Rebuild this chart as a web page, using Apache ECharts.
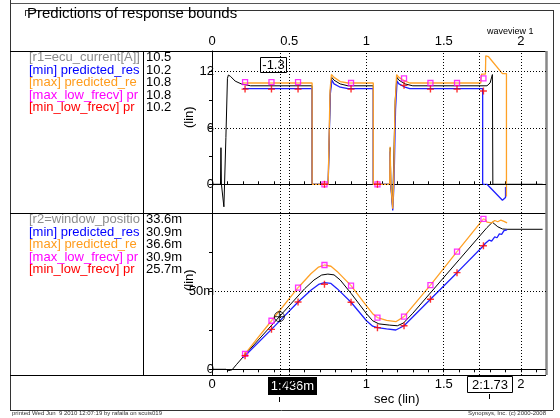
<!DOCTYPE html>
<html>
<head>
<meta charset="utf-8">
<script src="https://cdn.jsdelivr.net/npm/echarts@6/dist/echarts.min.js"></script>
<style>html,body{margin:0;padding:0;background:#fff}#main{width:560px;height:418px}</style>
</head>
<body>
<div id="main"></div>
<script>
var FONT = 'Liberation Sans, Arial, Helvetica, sans-serif';

// top panel: ecu current [A], points are [sec, value]
var curR1 = [[0,0],[0.055,0],[0.058,3.9],[0.061,0],[0.072,0],[0.077,-2.4],[0.09,5],[0.1,11.3],[0.106,11.65],[0.12,11.5],[0.15,11.0],[0.19,10.7],[0.25,10.5],[0.648,10.5],[0.648,0],[0.752,0],[0.766,10],[0.775,11.4],[0.79,11.1],[0.83,10.7],[0.88,10.5],[1.044,10.5],[1.044,0],[1.152,0],[1.154,3.9],[1.157,0],[1.166,0],[1.169,-2.4],[1.186,9],[1.197,11.4],[1.21,11.1],[1.25,10.7],[1.3,10.5],[1.78,10.5],[1.8,10.8],[1.815,11.7],[1.818,0],[2.14,0]];
var curMin = [[0.2,10.2],[0.648,10.2],[0.648,0],[0.752,0],[0.765,9.5],[0.776,11.1],[0.79,10.7],[0.83,10.35],[0.88,10.2],[1.044,10.2],[1.044,0],[1.15,0],[1.153,3.5],[1.157,0],[1.166,0],[1.17,-2.8],[1.178,0],[1.188,8],[1.198,11.0],[1.21,10.7],[1.25,10.35],[1.28,10.2],[1.752,10.2],[1.752,0],[1.78,0],[1.88,-1.7],[1.9,-1.4],[1.9,-0.3]];
var curMax = [[0.2,10.8],[0.648,10.8],[0.648,0],[0.752,0],[0.764,10],[0.773,11.7],[0.79,11.4],[0.83,10.95],[0.88,10.8],[1.044,10.8],[1.044,0],[1.15,0],[1.153,4.0],[1.158,0],[1.165,0],[1.17,-2.6],[1.176,0],[1.184,8],[1.195,11.7],[1.21,11.4],[1.25,11.0],[1.28,10.8],[1.74,10.8],[1.745,11.75],[1.77,11.75],[1.772,13.7],[1.79,13.6],[1.88,11.8],[1.906,11.8],[1.906,-1.3]];

// bottom panel: window position, values in milli units
var posR2 = [[0,0],[0.09,0],[0.11,-0.8],[0.13,-0.3],[0.16,3.2],[0.214,9.3],[0.436,33.6],[0.6,51.5],[0.66,57],[0.71,60.2],[0.75,60.8],[0.79,60.3],[0.83,57],[0.9,48.5],[1.0,35.5],[1.04,31],[1.08,29],[1.15,28.2],[1.2,27.8],[1.24,29.6],[1.3,35.8],[1.6,70],[1.78,90.5],[1.815,93.9],[1.85,91],[1.88,89.6],[1.91,89.4],[2.14,89.4]];
var posMin = [[0.2,7.5],[0.214,8.7],[0.385,25.5],[0.557,43],[0.64,50.5],[0.69,54.2],[0.728,55.3],[0.77,54.8],[0.81,51.5],[0.9,42.8],[1.0,31],[1.04,27.5],[1.071,26.6],[1.13,25.8],[1.19,25.1],[1.243,27.8],[1.414,44.7],[1.586,61.7],[1.757,78.9],[1.77,80.5],[1.78,79.5],[1.795,82.5],[1.81,81.8],[1.83,84.5],[1.845,84],[1.86,86.5],[1.875,86.2],[1.89,88.5],[1.91,89]];
var posMax = [[0.2,8.2],[0.214,9.8],[0.385,31],[0.557,52.1],[0.64,61],[0.69,65.3],[0.728,66.6],[0.77,65.8],[0.81,62.5],[0.9,53.4],[1.0,40.5],[1.04,35.5],[1.071,33],[1.13,31.2],[1.19,30.4],[1.243,33.6],[1.414,53.8],[1.586,75.1],[1.757,96],[1.77,95.5],[1.78,94],[1.79,95.2],[1.81,93.5],[1.83,95],[1.85,94.2],[1.87,95.3],[1.89,94.5],[1.91,93.5]];

// low frequency sample points
var lowT = [0.214, 0.385, 0.557, 0.728, 0.9, 1.071, 1.243, 1.414, 1.586, 1.757];
var curMaxLow = [10.9, 10.9, 10.9, 0, 10.8, 0, 11.3, 10.8, 10.8, 11.3];
var curMinLow = [10.15, 10.15, 10.15, 0, 10.15, 0, 10.55, 10.15, 10.15, 9.95];
var posMaxLow = [9.8, 31, 52.1, 66.6, 53.4, 33, 33.6, 53.8, 75.1, 96];
var posMinLow = [8.7, 25.5, 43, 54.3, 42.8, 26.6, 27.8, 44.7, 61.7, 78.9];

var cursorT = [0.436, 1.73];
var cursorPos = [[0.436, 33.6]];
var gridT = [0.5, 1, 1.5, 2];
var curTicks = [0, 3, 6, 9, 12];
var curLabels = [0, 6, 12];
var posTicks = [0, 25, 50, 75];
var posLabels = [0, 50];

var topNames = ['[r1=ecu_current[A]]', '[min] predicted_response_min', '[max] predicted_response_max', '[max_low_frecv] predicted_max', '[min_low_frecv] predicted_min'];
var topValues = ['10.5', '10.2', '10.8', '10.8', '10.2'];
var botNames = ['[r2=window_position[m]]', '[min] predicted_response_min', '[max] predicted_response_max', '[max_low_frecv] predicted_max', '[min_low_frecv] predicted_min'];
var botValues = ['33.6m', '30.9m', '36.6m', '30.9m', '25.7m'];
var rowColors = ['#8c8c8c', '#0000ff', '#ff9c1c', '#ff00ff', '#ff0000'];

var C_BLACK = '#000', C_BLUE = '#2020ff', C_ORANGE = '#ffa126', C_MAG = '#ff00ff', C_RED = '#ff0000';
var PLUS = 'path://M4,0H6V4H10V6H6V10H4V6H0V4H4Z';
var CROSS = 'path://M0,-10A10,10,0,1,1,0,10A10,10,0,1,1,0,-10ZM-10,0H10M0,-10V10';

function pairs(xs, ys) { return xs.map(function (x, i) { return [x, ys[i]]; }); }

function halfLabel(v) {
  if (Math.abs(v * 2 - Math.round(v * 2)) > 1e-6) return '';
  return String(Math.round(v * 10) / 10);
}

function gridMarks(yvals) {
  var d = [];
  gridT.concat(cursorT).forEach(function (t) { d.push({ xAxis: t }); });
  yvals.forEach(function (v) { d.push({ yAxis: v }); });
  return {
    silent: true, symbol: ['none', 'none'], label: { show: false },
    lineStyle: { type: [1, 2], color: '#000', width: 1 }, data: d
  };
}

function xAxisCfg(idx, pos) {
  return {
    gridIndex: idx, type: 'value', position: pos, min: 0, max: 2.162, interval: 0.1,
    axisLine: { lineStyle: { color: '#000', width: 1 } },
    axisTick: { length: 3, lineStyle: { color: '#000' } },
    axisLabel: { formatter: halfLabel, color: '#000', fontSize: 13, fontFamily: FONT, margin: 3 },
    splitLine: { show: false }
  };
}

function lineS(xi, data, color, w) {
  return { type: 'line', xAxisIndex: xi, yAxisIndex: xi, data: data, showSymbol: false,
    lineStyle: { color: color, width: w }, itemStyle: { color: color }, silent: true };
}

function legendRows(y0, names, values) {
  var out = [];
  names.forEach(function (n, i) {
    var y = y0 + i * 12.5;
    out.push({ type: 'text', left: 29, top: y - 7, z: 10, silent: true,
      style: { text: n, fill: rowColors[i], font: '13px ' + FONT, width: 113, overflow: 'truncate', ellipsis: '' } });
    out.push({ type: 'text', left: 146, top: y - 7, z: 10, silent: true,
      style: { text: values[i], fill: '#000', font: '13px ' + FONT } });
  });
  return out;
}

function hline(x1, x2, y, color, w) {
  return { type: 'line', z: 5, silent: true, shape: { x1: x1, y1: y, x2: x2, y2: y }, style: { stroke: color || '#000', lineWidth: w || 1 } };
}
function vline(x, y1, y2, color, w) {
  return { type: 'line', z: 5, silent: true, shape: { x1: x, y1: y1, x2: x, y2: y2 }, style: { stroke: color || '#000', lineWidth: w || 1 } };
}

var graphics = [
  { type: 'text', left: 27, top: 6, z: 10, style: { text: 'Predictions of response bounds', fill: '#000', font: '15px ' + FONT } },
  { type: 'text', left: 487, top: 27, z: 10, style: { text: 'waveview 1', fill: '#000', font: '9px ' + FONT } },
  hline(10, 560, 3.5, '#555'),
  vline(10.5, 0, 410, '#333'),
  hline(25, 553, 10.5, '#333'),
  vline(25.5, 10, 16, '#333'),
  vline(553.5, 10, 410, '#333'),
  hline(10, 553, 410.5, '#333'),
  hline(10, 546, 51.5),
  hline(10, 546, 213.5),
  hline(10, 546, 375.5),
  vline(143.5, 51, 375),
  vline(546.5, 51, 375, '#888', 2.5),
  { type: 'group', left: 260, top: 57, z: 10, children: [
    { type: 'rect', shape: { x: 0, y: 0, width: 26, height: 15 }, style: { fill: '#fff', stroke: '#000', lineWidth: 1 } },
    { type: 'text', x: 13, y: 8, style: { text: '-1.3', fill: '#000', font: '13px ' + FONT, align: 'center', verticalAlign: 'middle' } }
  ] },
  { type: 'group', left: 268, top: 377, z: 10, children: [
    { type: 'rect', shape: { x: 0, y: 0, width: 49, height: 18 }, style: { fill: '#000' } },
    { type: 'text', x: 24.5, y: 9.5, style: { text: '1:436m', fill: '#fff', font: '13px ' + FONT, align: 'center', verticalAlign: 'middle' } }
  ] },
  { type: 'group', left: 467, top: 376, z: 10, children: [
    { type: 'rect', shape: { x: 0, y: 0, width: 45, height: 16 }, style: { fill: '#fff', stroke: '#000', lineWidth: 1 } },
    { type: 'text', x: 22.5, y: 8.5, style: { text: '2:1.73', fill: '#000', font: '13px ' + FONT, align: 'center', verticalAlign: 'middle' } }
  ] },
  vline(279.5, 397, 402),
  vline(489.5, 394, 399),
  { type: 'text', left: 374, top: 393, z: 10, style: { text: 'sec (lin)', fill: '#000', font: '13px ' + FONT } },
  { type: 'text', x: 183, y: 128, rotation: Math.PI / 2, z: 10, style: { text: '(lin)', fill: '#000', font: '13px ' + FONT } },
  { type: 'text', x: 183, y: 291, rotation: Math.PI / 2, z: 10, style: { text: '(lin)', fill: '#000', font: '13px ' + FONT } },
  { type: 'text', left: 12, top: 410, z: 10, style: { text: 'printed Wed Jun  9 2010 12:07:19 by rafaila on scuis019', fill: '#333', font: '6px ' + FONT } },
  { type: 'text', right: 14, top: 410, z: 10, style: { text: 'Synopsys, Inc. (c) 2000-2008', fill: '#333', font: '6px ' + FONT } }
].concat(legendRows(58, topNames, topValues), legendRows(220, botNames, botValues));

var chart = echarts.init(document.getElementById('main'));
chart.setOption({
  animation: false,
  backgroundColor: '#fff',
  grid: [
    { left: 212, right: 14, top: 51, height: 162 },
    { left: 212, right: 14, top: 213, height: 162 }
  ],
  xAxis: [xAxisCfg(0, 'top'), xAxisCfg(1, 'bottom')],
  yAxis: [
    { gridIndex: 0, type: 'value', min: -3.06, max: 14.21,
      axisLine: { show: true, lineStyle: { color: '#000' } },
      axisTick: { show: true, length: 3, customValues: curTicks, lineStyle: { color: '#000' } },
      axisLabel: { customValues: curLabels, color: '#000', fontSize: 13, fontFamily: FONT, margin: -2 },
      splitLine: { show: false } },
    { gridIndex: 1, type: 'value', min: -3.64, max: 99.8,
      axisLine: { show: true, lineStyle: { color: '#000' } },
      axisTick: { show: true, length: 3, customValues: posTicks, lineStyle: { color: '#000' } },
      axisLabel: { customValues: posLabels, color: '#000', fontSize: 13, fontFamily: FONT, margin: -2,
        formatter: function (v) { return v === 0 ? '0' : v + 'm'; } },
      splitLine: { show: false } }
  ],
  series: [
    Object.assign(lineS(0, curR1, C_BLACK, 1), { markLine: gridMarks(curLabels) }),
    lineS(0, curMin, C_BLUE, 1.3),
    lineS(0, curMax, C_ORANGE, 1.3),
    { type: 'scatter', xAxisIndex: 0, yAxisIndex: 0, data: pairs(lowT, curMaxLow), symbol: 'rect', symbolSize: 5,
      itemStyle: { color: 'rgba(255,255,255,0.3)', borderColor: C_MAG, borderWidth: 1.3 }, z: 5 },
    { type: 'scatter', xAxisIndex: 0, yAxisIndex: 0, data: pairs(lowT, curMinLow), symbol: PLUS, symbolSize: 7,
      itemStyle: { color: C_RED }, z: 5 },
    Object.assign(lineS(1, posR2, C_BLACK, 1), { markLine: gridMarks(posLabels) }),
    lineS(1, posMin, C_BLUE, 1.3),
    lineS(1, posMax, C_ORANGE, 1.3),
    { type: 'scatter', xAxisIndex: 1, yAxisIndex: 1, data: pairs(lowT, posMaxLow), symbol: 'rect', symbolSize: 5,
      itemStyle: { color: 'rgba(255,255,255,0.3)', borderColor: C_MAG, borderWidth: 1.3 }, z: 5 },
    { type: 'scatter', xAxisIndex: 1, yAxisIndex: 1, data: pairs(lowT, posMinLow), symbol: PLUS, symbolSize: 7,
      itemStyle: { color: C_RED }, z: 5 },
    { type: 'scatter', xAxisIndex: 1, yAxisIndex: 1, data: cursorPos, symbol: CROSS, symbolSize: 10,
      itemStyle: { color: 'rgba(0,0,0,0)', borderColor: '#000', borderWidth: 1 }, z: 6 }
  ],
  graphic: graphics
});
</script>
</body>
</html>
